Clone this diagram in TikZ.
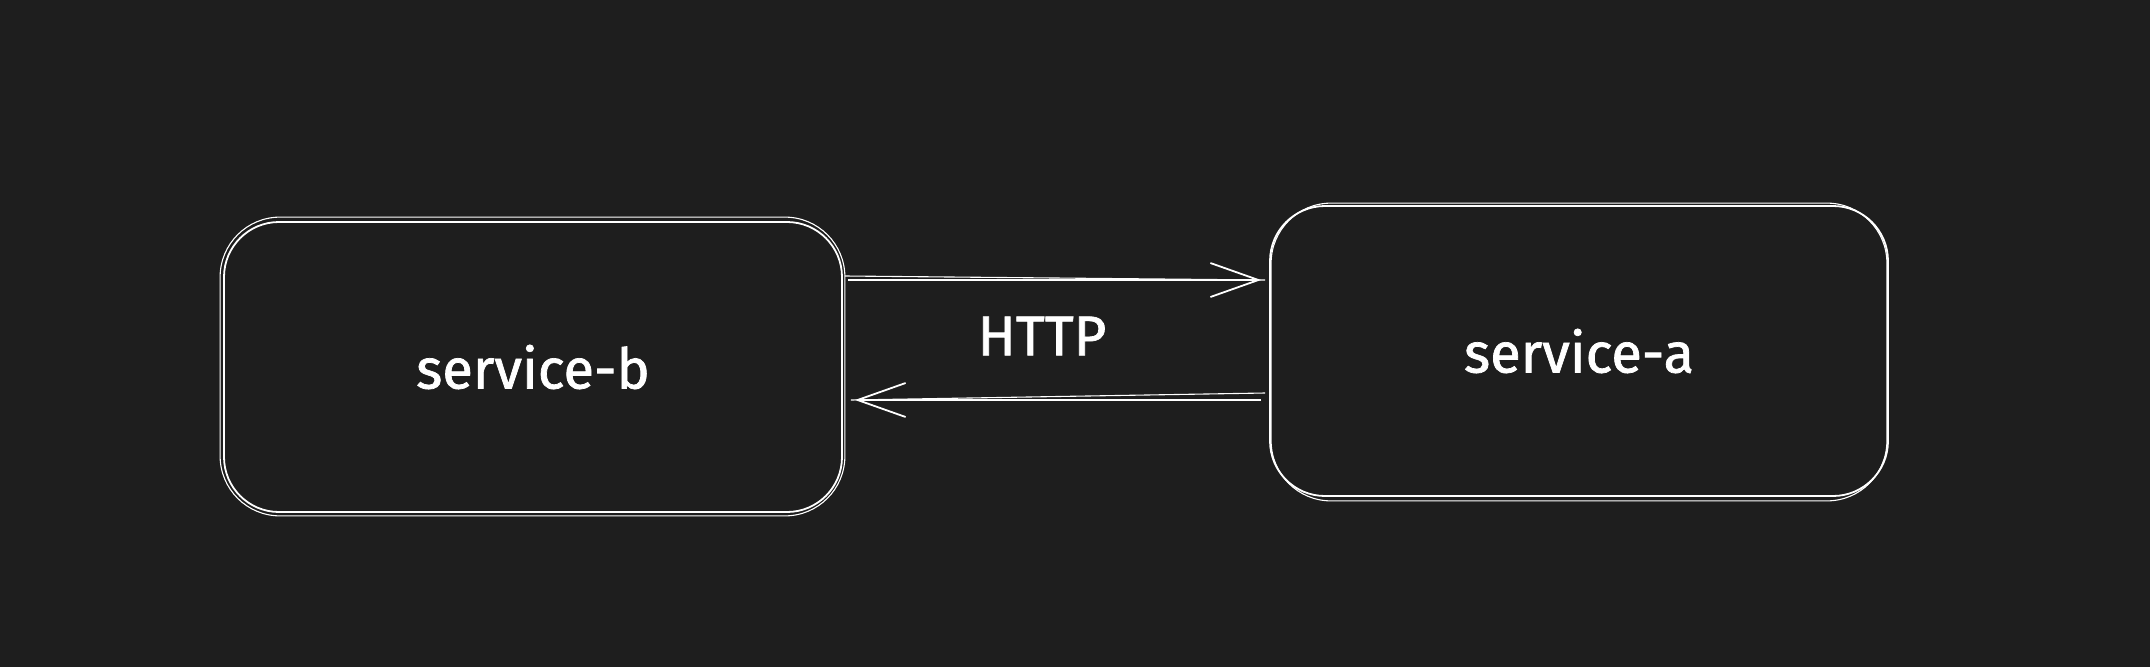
\documentclass[tikz,border=0pt]{standalone}
\usepackage{fontspec}
\setmainfont{Fira Sans}
\newfontfamily\hand[FakeBold=1.3]{Fira Sans}
\usetikzlibrary{arrows.meta,calc}
\definecolor{bg}{HTML}{1E1E1E}
\tikzset{
  svc/.style={draw=white, line width=1.8pt, rounded corners=55pt, minimum width=618pt, minimum height=290pt, text=white, font=\hand\fontsize{56}{66}\selectfont, inner sep=0pt},
  sk/.style={draw=white, line width=1.1pt, rounded corners=60pt},
  arr/.style={draw=white, line width=1.8pt, -{Straight Barb[length=48pt,width=34pt,line width=1.8pt]}},
  skl/.style={draw=white, line width=1.1pt},
  lbl/.style={text=white, font=\hand\fontsize{56}{66}\selectfont}
}
\begin{document}
\begin{tikzpicture}[x=1pt,y=-1pt]
\fill[bg] (0,0) rectangle (2150,667);
\useasboundingbox (0,0) rectangle (2150,667);
\node[svc] (b) at (533,367) {service-b};
\node[svc] (a) at (1579,351) {service-a};
\draw[sk] ([shift={(-3,-4)}]b.north west) rectangle ([shift={(2,3)}]b.south east);
\draw[sk] ([shift={(2,-2)}]a.north west) rectangle ([shift={(-2,4)}]a.south east);
\coordinate (t1) at (0,280);
\coordinate (t2) at (0,400);
\node[lbl] (http) at (1042,336) {HTTP};
\draw[arr] ([xshift=5]b.east |- t1) -- ([xshift=-8]a.west |- t1);
\draw[skl] ([xshift=2]b.east |- t1) ++(0,-4) -- ([xshift=-4]a.west |- t1) ;
\draw[arr] ([xshift=-8]a.west |- t2) -- ([xshift=12]b.east |- t2);
\draw[skl] ([xshift=-4]a.west |- t2) ++(0,-7) -- ([xshift=8]b.east |- t2) ++(0,9);
\end{tikzpicture}
\end{document}
